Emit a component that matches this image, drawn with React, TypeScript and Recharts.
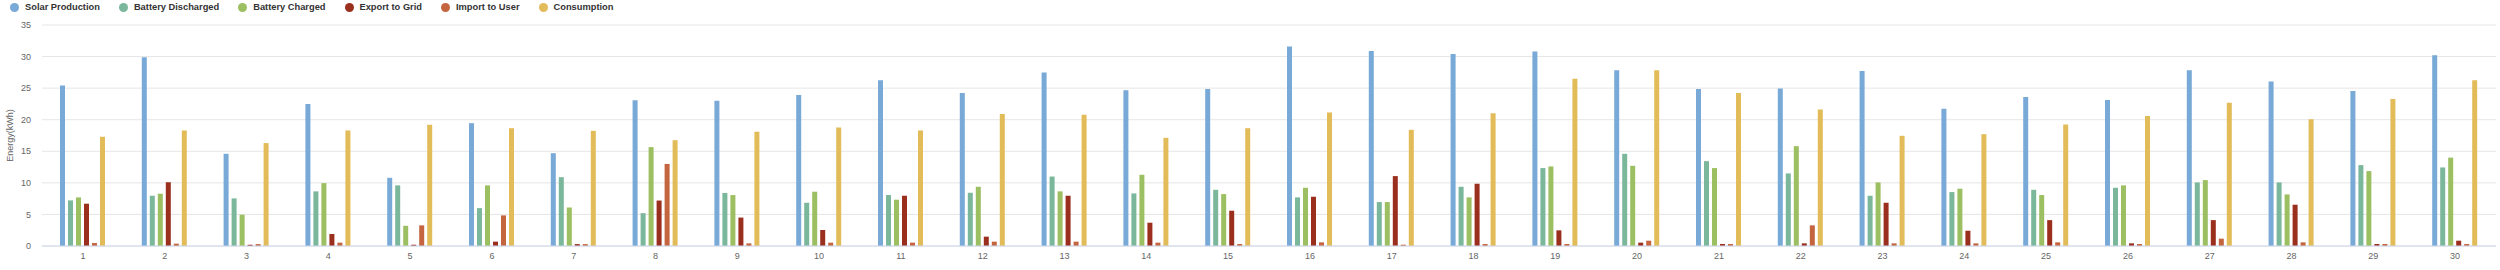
import React from "react";
import { BarChart, Bar, XAxis, YAxis, CartesianGrid, Legend } from "recharts";

const days = ["1","2","3","4","5","6","7","8","9","10","11","12","13","14","15","16","17","18","19","20","21","22","23","24","25","26","27","28","29","30"];
const solarProduction = [25.4,29.9,14.6,22.5,10.8,19.45,14.7,23.1,23.0,23.9,26.25,24.25,27.46,24.67,24.88,31.6,30.9,30.4,30.8,27.83,24.88,24.93,27.73,21.72,23.6,23.14,27.83,26.04,24.56,30.2];
const batteryDischarged = [7.22,7.96,7.54,8.65,9.6,6.0,10.9,5.2,8.4,6.85,8.07,8.43,11.0,8.33,8.9,7.7,6.96,9.38,12.34,14.6,13.44,11.49,7.96,8.54,8.9,9.22,10.07,10.07,12.81,12.44];
const batteryCharged = [7.7,8.28,4.96,9.96,3.2,9.6,6.1,15.66,8.07,8.6,7.33,9.38,8.65,11.28,8.22,9.22,6.96,7.7,12.6,12.7,12.34,15.81,10.07,9.07,8.07,9.6,10.44,8.17,11.86,14.0];
const exportToGrid = [6.7,10.1,0.2,1.9,0.2,0.69,0.3,7.2,4.5,2.53,7.96,1.48,7.96,3.69,5.59,7.8,11.07,9.86,2.48,0.53,0.32,0.42,6.85,2.42,4.1,0.42,4.1,6.54,0.32,0.84];
const importToUser = [0.47,0.37,0.3,0.53,3.27,4.85,0.3,13.0,0.42,0.53,0.53,0.69,0.69,0.53,0.32,0.58,0.21,0.32,0.32,0.84,0.32,3.27,0.42,0.42,0.58,0.32,1.16,0.58,0.32,0.32];
const consumption = [17.3,18.3,16.3,18.3,19.2,18.66,18.24,16.76,18.1,18.77,18.3,20.9,20.77,17.13,18.66,21.14,18.4,21.03,26.5,27.83,24.25,21.6,17.45,17.71,19.24,20.6,22.7,20.08,23.3,26.25];
const yTicks = [0,5,10,15,20,25,30,35];

const seriesNames = ["Solar Production","Battery Discharged","Battery Charged","Export to Grid","Import to User","Consumption"];
const seriesKeys = ["solar","discharged","charged","export","import","consumption"];
const seriesColors = ["#78a9d7","#7bb79b","#9cbf62","#9b2f1e","#c4653f","#e3bc5a"];

const data = days.map((d, i) => ({
  day: d,
  solar: solarProduction[i],
  discharged: batteryDischarged[i],
  charged: batteryCharged[i],
  export: exportToGrid[i],
  import: importToUser[i],
  consumption: consumption[i],
}));

const FONT = "'Liberation Sans', Arial, sans-serif";

const LegendContent = () => (
  <div style={{ display: "flex", alignItems: "center", fontFamily: FONT, fontSize: 9.3, fontWeight: 700, color: "#333", whiteSpace: "nowrap", lineHeight: "11px" }}>
    {seriesNames.map((n, i) => (
      <div key={n} style={{ display: "flex", alignItems: "center", marginRight: 19 }}>
        <span style={{ display: "inline-block", width: 9, height: 9, borderRadius: "50%", background: seriesColors[i], marginRight: 6 }} />
        <span>{n}</span>
      </div>
    ))}
  </div>
);

export default function App() {
  return (
    <div style={{ position: "absolute", left: 0, top: 0, width: 2500, height: 270, background: "#fff" }}>
      <BarChart
        width={2500}
        height={270}
        data={data}
        margin={{ top: 25, right: 4, bottom: 4, left: 12 }}
        barCategoryGap={18}
        barGap={3}
      >
        <CartesianGrid vertical={false} stroke="#e6e6e6" />
        <XAxis
          dataKey="day"
          height={20}
          axisLine={{ stroke: "#ccd6eb" }}
          tickLine={false}
          tickSize={0}
          tickMargin={7}
          tick={{ fill: "#666", fontSize: 9, fontFamily: FONT }}
          interval={0}
        />
        <YAxis
          width={30}
          domain={[0, 35]}
          ticks={yTicks}
          axisLine={false}
          tickLine={false}
          tickSize={0}
          tickMargin={11}
          tick={{ fill: "#666", fontSize: 9, fontFamily: FONT }}
          label={{ value: "Energy(kWh)", angle: -90, position: "insideLeft", offset: -2, style: { fill: "#666", fontSize: 9, fontFamily: FONT, textAnchor: "middle" } }}
        />
        <Legend
          layout="horizontal"
          verticalAlign="middle"
          align="center"
          content={<LegendContent />}
          wrapperStyle={{ top: 2, left: 10, width: "auto" }}
        />
        {seriesKeys.map((k, i) => (
          <Bar key={k} dataKey={k} name={seriesNames[i]} fill={seriesColors[i]} isAnimationActive={false} />
        ))}
      </BarChart>
    </div>
  );
}
